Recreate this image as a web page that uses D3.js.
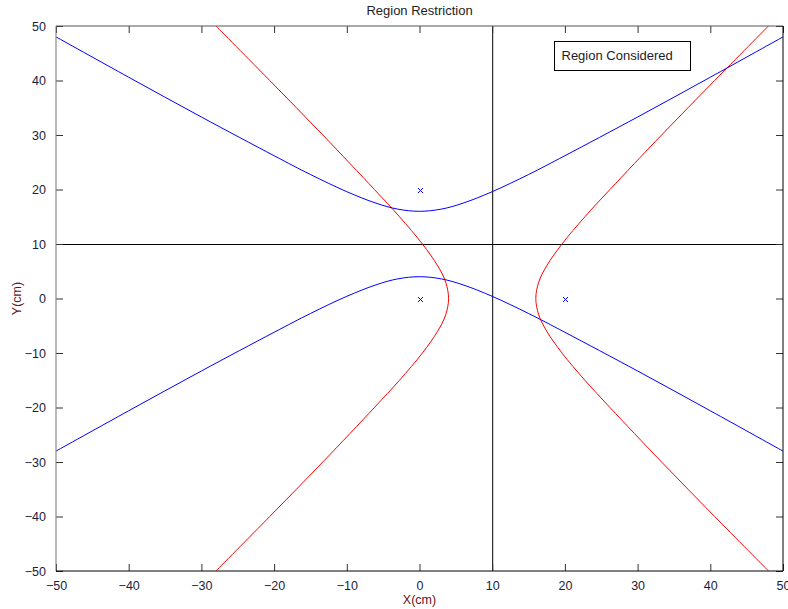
<!DOCTYPE html>
<html>
<head>
<meta charset="utf-8">
<script src="https://cdn.jsdelivr.net/npm/d3@7"></script>
<style>
  body { margin: 0; background: #fff; }
  svg text { font-family: "Liberation Sans", Arial, sans-serif; }
</style>
</head>
<body>
<svg id="chart" width="788" height="609"></svg>
<script>
// margin conventions
const margin = { top: 26, right: 5, bottom: 38, left: 56 };
const width = 788 - margin.left - margin.right;
const height = 609 - margin.top - margin.bottom;

// tick values
const xTicks = [-50, -40, -30, -20, -10, 0, 10, 20, 30, 40, 50];
const yTicks = [-50, -40, -30, -20, -10, 0, 10, 20, 30, 40, 50];

// blue curves, read along x
const blueX = [-50, -40, -30, -20, -15, -10, -6, -3, 0, 3, 6, 10, 15, 20, 30, 40, 50];
const blueUpperY = [48.0, 40.6, 33.3, 26.2, 22.75, 19.6, 17.5, 16.4, 16.0, 16.4, 17.5, 19.6, 22.75, 26.2, 33.3, 40.6, 48.0];
const blueLowerY = [-28.0, -20.6, -13.3, -6.2, -2.75, 0.4, 2.5, 3.6, 4.0, 3.6, 2.5, 0.4, -2.75, -6.2, -13.3, -20.6, -28.0];

// red curves, read along y
const redY = [-50, -40, -30, -20, -15, -10, -6, -3, 0, 3, 6, 10, 15, 20, 30, 40, 50];
const redLeftX = [-28.0, -20.6, -13.3, -6.2, -2.75, 0.4, 2.5, 3.6, 4.0, 3.6, 2.5, 0.4, -2.75, -6.2, -13.3, -20.6, -28.0];
const redRightX = [48.0, 40.6, 33.3, 26.2, 22.75, 19.6, 17.5, 16.4, 16.0, 16.4, 17.5, 19.6, 22.75, 26.2, 33.3, 40.6, 48.0];

// sensor points
const pointX = [0, 0, 20];
const pointY = [20, 0, 0];

// reference lines
const refX = 10;
const refY = 10;

const x = d3.scaleLinear().domain([-50, 50]).range([0, width]);
const y = d3.scaleLinear().domain([-50, 50]).range([height, 0]);

const svg = d3.select('#chart');
const g = svg.append('g').attr('transform', 'translate(' + margin.left + ',' + margin.top + ')');

// clip
svg.append('defs').append('clipPath').attr('id', 'clip')
  .append('rect').attr('width', width).attr('height', height);
const plot = g.append('g').attr('clip-path', 'url(#clip)');

const lineXY = d3.line().x(d => x(d[0])).y(d => y(d[1])).curve(d3.curveCatmullRom);

const blueUpper = blueX.map((v, i) => [v, blueUpperY[i]]);
const blueLower = blueX.map((v, i) => [v, blueLowerY[i]]);
const redLeft = redY.map((v, i) => [redLeftX[i], v]);
const redRight = redY.map((v, i) => [redRightX[i], v]);

// black reference lines
plot.append('line')
  .attr('x1', x(refX) + 0.5).attr('x2', x(refX) + 0.5).attr('y1', 0).attr('y2', height)
  .attr('stroke', '#000').attr('stroke-width', 1);
plot.append('line')
  .attr('x1', 0).attr('x2', width).attr('y1', y(refY) + 0.5).attr('y2', y(refY) + 0.5)
  .attr('stroke', '#000').attr('stroke-width', 1);

[redLeft, redRight].forEach(pts => {
  plot.append('path').datum(pts).attr('d', lineXY)
    .attr('fill', 'none').attr('stroke', '#ff0000').attr('stroke-width', 1);
});
[blueUpper, blueLower].forEach(pts => {
  plot.append('path').datum(pts).attr('d', lineXY)
    .attr('fill', 'none').attr('stroke', '#0000ff').attr('stroke-width', 1);
});

// x markers
const s = 2.5;
pointX.forEach((px, i) => {
  const cx = Math.round(x(px)) + 0.5, cy = Math.round(y(pointY[i])) + 0.5;
  plot.append('path')
    .attr('d', 'M' + (cx - s) + ',' + (cy - s) + 'L' + (cx + s) + ',' + (cy + s) +
               'M' + (cx - s) + ',' + (cy + s) + 'L' + (cx + s) + ',' + (cy - s))
    .attr('stroke', '#0000ff').attr('stroke-width', 1).attr('fill', 'none');
});

// axes, ticks inward
const tickLen = 7;
const labelColor = '#1c1c3c';
g.append('g').attr('transform', 'translate(0,' + height + ')')
  .call(d3.axisBottom(x).tickValues(xTicks).tickSize(-tickLen).tickSizeOuter(0).tickPadding(tickLen + 3))
  .call(a => a.select('.domain').remove())
  .selectAll('text').attr('font-size', 12.5).attr('fill', labelColor);
g.append('g')
  .call(d3.axisLeft(y).tickValues(yTicks).tickSize(-tickLen).tickSizeOuter(0).tickPadding(tickLen + 3))
  .call(a => a.select('.domain').remove())
  .selectAll('text').attr('font-size', 12.5).attr('fill', labelColor);
g.append('g')
  .call(d3.axisTop(x).tickValues(xTicks).tickSize(-tickLen).tickSizeOuter(0).tickFormat(''))
  .call(a => a.select('.domain').remove());
g.append('g').attr('transform', 'translate(' + width + ',0)')
  .call(d3.axisRight(y).tickValues(yTicks).tickSize(-tickLen).tickSizeOuter(0).tickFormat(''))
  .call(a => a.select('.domain').remove());
g.selectAll('.tick line').attr('stroke', '#333');

// frame
g.append('line').attr('x1', 0).attr('x2', 0).attr('y1', 0).attr('y2', height).attr('stroke', '#777');
g.append('line').attr('x1', 0).attr('x2', width).attr('y1', 0).attr('y2', 0).attr('stroke', '#555');
g.append('line').attr('x1', 0).attr('x2', width).attr('y1', height).attr('y2', height).attr('stroke', '#000');
g.append('line').attr('x1', width).attr('x2', width).attr('y1', 0).attr('y2', height).attr('stroke', '#000');

// title and axis labels
svg.append('text').attr('x', margin.left + width / 2).attr('y', 15)
  .attr('text-anchor', 'middle').attr('font-size', 13).attr('fill', '#222')
  .text('Region Restriction');
svg.append('text').attr('x', margin.left + width / 2).attr('y', 604)
  .attr('text-anchor', 'middle').attr('font-size', 12.5).attr('fill', '#6b1020')
  .text('X(cm)');
svg.append('text')
  .attr('transform', 'translate(21,' + (margin.top + height / 2) + ') rotate(-90)')
  .attr('text-anchor', 'middle').attr('font-size', 12.5).attr('fill', '#6b1020')
  .text('Y(cm)');

// legend box
const legend = svg.append('g').attr('transform', 'translate(554.5,41.5)');
legend.append('rect').attr('width', 136).attr('height', 29)
  .attr('fill', '#fff').attr('stroke', '#000').attr('stroke-width', 1);
legend.append('text').attr('x', 7).attr('y', 18)
  .attr('font-size', 13).attr('fill', '#1c1c2c').text('Region Considered');
</script>
</body>
</html>
